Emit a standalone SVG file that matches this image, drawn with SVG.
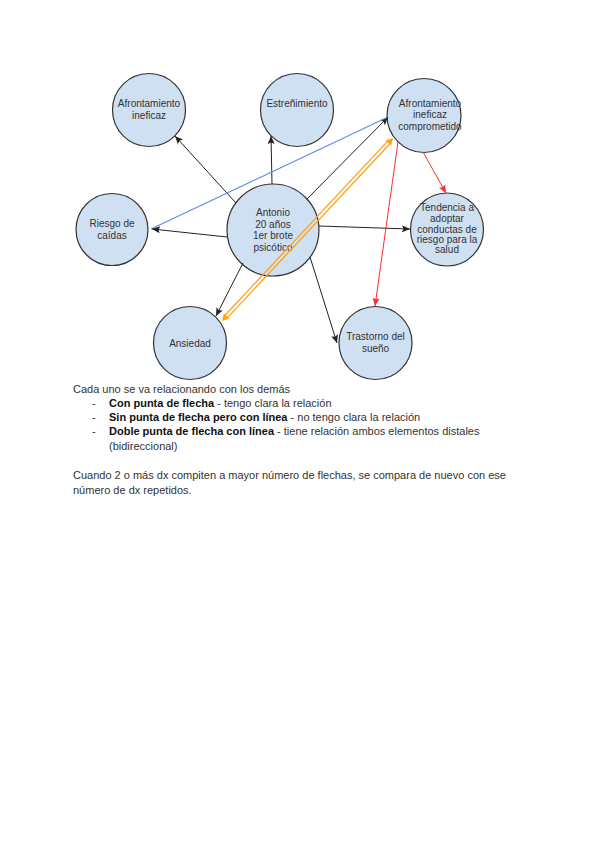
<svg xmlns="http://www.w3.org/2000/svg" width="599" height="848" viewBox="0 0 599 848">
<style>
.node circle{fill:#cfe0f2;stroke:#333;stroke-width:1.2}
.node text{font-family:"Liberation Sans",Arial,sans-serif;font-size:10px;fill:#333;text-anchor:middle}
.e{fill:none;stroke:#222;stroke-width:1}
.r{fill:none;stroke:#ff2b2b;stroke-width:1}
.b{fill:none;stroke:#5b8fe8;stroke-width:1.2}
.o{fill:none;stroke:#ffa21a;stroke-width:1.3}
.body{font-family:"Liberation Sans",Arial,sans-serif;font-size:11px;fill:#333}
.bold{font-weight:bold;fill:#111}
</style>
<defs>
<marker id="ak" markerUnits="userSpaceOnUse" markerWidth="10" markerHeight="10" refX="8" refY="4" orient="auto">
<path d="M0,0.5 L8,4 L0,7.5 L1.5,4 z" fill="#222"/>
</marker>
<marker id="ar" markerUnits="userSpaceOnUse" markerWidth="10" markerHeight="10" refX="8" refY="4" orient="auto">
<path d="M0,0.5 L8,4 L0,7.5 L1.5,4 z" fill="#ff2b2b"/>
</marker>
</defs>
<rect width="599" height="848" fill="#fff"/>

<g id="nodes">
<g id="n-afront" class="node"><circle cx="149" cy="110" r="36.5"/><text x="149" y="107">Afrontamiento</text><text x="149" y="119">ineficaz</text></g>
<g id="n-estren" class="node"><circle cx="297" cy="110" r="36.5"/><text x="297" y="107">Estreñimiento</text></g>
<g id="n-comp" class="node"><circle cx="424" cy="115.5" r="37"/><text x="430" y="107">Afrontamiento</text><text x="430" y="118">ineficaz</text><text x="430" y="130">comprometido</text></g>
<g id="n-riesgo" class="node"><circle cx="112" cy="229.5" r="36"/><text x="112" y="227">Riesgo de</text><text x="112" y="239">caídas</text></g>
<g id="n-antonio" class="node"><circle cx="273" cy="230" r="46"/><text x="273" y="216">Antonio</text><text x="273" y="228">20 años</text><text x="273" y="239">1er brote</text><text x="273" y="251">psicótico</text></g>
<g id="n-tend" class="node"><circle cx="447" cy="229.5" r="36.5"/><text x="447" y="211">Tendencia a</text><text x="447" y="222">adoptar</text><text x="447" y="232.5">conductas de</text><text x="447" y="243">riesgo para la</text><text x="447" y="253">salud</text></g>
<g id="n-ansiedad" class="node"><circle cx="190" cy="343" r="36.5"/><text x="190" y="347">Ansiedad</text></g>
<g id="n-trast" class="node"><circle cx="375.5" cy="343" r="36.5"/><text x="375.5" y="340">Trastorno del</text><text x="375.5" y="352">sueño</text></g>
</g>

<g id="connectors">
<line class="e" x1="236" y1="203" x2="175" y2="136" marker-end="url(#ak)"/>
<line class="e" x1="272" y1="184" x2="271" y2="136" marker-end="url(#ak)"/>
<line class="e" x1="307" y1="199" x2="388" y2="117" marker-end="url(#ak)"/>
<line class="b" x1="151" y1="229" x2="386" y2="118"/>
<line class="e" x1="227" y1="237" x2="152" y2="229" marker-end="url(#ak)"/>
<line class="e" x1="319" y1="226" x2="410" y2="229" marker-end="url(#ak)"/>
<line class="e" x1="310" y1="257" x2="337" y2="343" marker-end="url(#ak)"/>
<line class="e" x1="243" y1="263" x2="216" y2="316" marker-end="url(#ak)"/>
<line class="r" x1="423" y1="152" x2="446" y2="193" marker-end="url(#ar)"/>
<line class="r" x1="398" y1="142" x2="375" y2="306" marker-end="url(#ar)"/>
<g id="orange-bidirectional">
<line class="o" x1="228.0" y1="317.1" x2="389.4" y2="144.3"/>
<line class="o" x1="225.6" y1="314.7" x2="387.0" y2="141.9"/>
<polygon points="222,321 229.6,318.6 223.9,313.2" fill="#ffa21a"/>
<polygon points="393,138 391.1,145.8 385.4,140.4" fill="#ffa21a"/>
</g>
</g>

<g id="notes" class="body">
<text x="73" y="393">Cada uno se va relacionando con los demás</text>
<text x="92" y="407">-</text>
<text x="109" y="407"><tspan class="bold">Con punta de flecha</tspan> - tengo clara la relación</text>
<text x="92" y="421">-</text>
<text x="109" y="421"><tspan class="bold">Sin punta de flecha pero con línea</tspan> - no tengo clara la relación</text>
<text x="92" y="435">-</text>
<text x="109" y="435"><tspan class="bold">Doble punta de flecha con línea</tspan> - tiene relación ambos elementos distales</text>
<text x="109" y="450">(bidireccional)</text>
<text x="73" y="479">Cuando 2 o más dx compiten a mayor número de flechas, se compara de nuevo con ese</text>
<text x="73" y="494">número de dx repetidos.</text>
</g>
</svg>
